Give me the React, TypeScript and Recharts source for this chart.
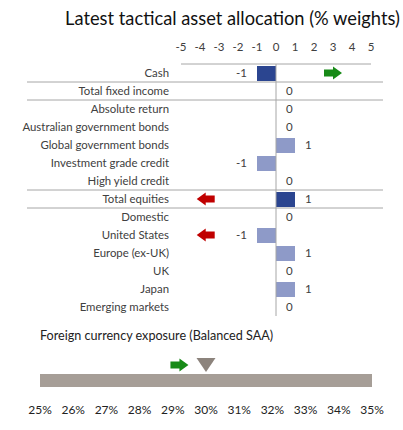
import React from 'react';
import {
  ComposedChart, Bar, Scatter, XAxis, YAxis, ReferenceLine, Cell
} from 'recharts';

const FONT = 'Lato, "Noto Sans", sans-serif';
const TEXT = '#404040';
const GRID = '#a6a6a6';
const DARK_BLUE = '#2b4590';
const LIGHT_BLUE = '#8e9ac8';
const GREEN = '#178a17';
const RED = '#c00000';
const FX_BAR = '#a69e97';
const FX_MARK = '#8c837c';

// tactical allocation
const categories = [
  'Cash', 'Total fixed income', 'Absolute return', 'Australian government bonds',
  'Global government bonds', 'Investment grade credit', 'High yield credit',
  'Total equities', 'Domestic', 'United States', 'Europe (ex-UK)', 'UK', 'Japan',
  'Emerging markets',
];
const weights = [-1, 0, 0, 0, 1, -1, 0, 1, 0, -1, 1, 0, 1, 0];
// arrow position on the weight axis, sign gives direction
const arrows = [3, null, null, null, null, null, null, -3.7, null, -3.7, null, null, null, null];
const darkRows = ['Cash', 'Total equities'];
const lineBelowRows = ['Cash', 'Total fixed income', 'High yield credit', 'Total equities'];
const weightTicks = [-5, -4, -3, -2, -1, 0, 1, 2, 3, 4, 5];

// foreign currency exposure
const fxName = 'Foreign currency exposure (Balanced SAA)';
const fxRange = [25, 35];
const fxCurrent = 30;
const fxArrow = 29.2;
const fxTicks = [25, 26, 27, 28, 29, 30, 31, 32, 33, 34, 35];

const tacticalData = categories.map((name, i) => ({
  name,
  value: weights[i],
  arrow: arrows[i],
}));

const fxData = [{ name: fxName, range: fxRange, current: fxCurrent, arrow: fxArrow }];

const Arrow = ({ cx, cy, dir, color }: any) => {
  const s = dir === 'right' ? 1 : -1;
  const pts = [[-9, -3.5], [0, -3.5], [0, -6.5], [9, 0], [0, 6.5], [0, 3.5], [-9, 3.5]]
    .map(([px, py]) => `${cx + s * px},${cy + py}`)
    .join(' ');
  return <polygon points={pts} fill={color} />;
};

const TacticalArrow = (props: any) => {
  const v = props.payload && props.payload.arrow;
  if (v == null || props.cx == null || isNaN(props.cx)) return <g />;
  return <Arrow cx={props.cx} cy={props.cy} dir={v > 0 ? 'right' : 'left'} color={v > 0 ? GREEN : RED} />;
};

// value label drawn at the end of each bar
const ValueMark = (props: any) => {
  const { cx, cy, payload } = props;
  if (cx == null || isNaN(cx)) return <g />;
  const neg = payload.value < 0;
  return (
    <text
      x={neg ? cx - 10 : cx + 10}
      y={cy}
      dy="0.35em"
      textAnchor={neg ? 'end' : 'start'}
      fill={TEXT}
      fontSize={11.5}
      fontFamily={FONT}
    >
      {payload.value}
    </text>
  );
};

const CategoryTick = (props: any) => {
  const { x, y, payload } = props;
  const hasLine = lineBelowRows.includes(payload.value);
  return (
    <g>
      <text x={x - 4} y={y} dy="0.35em" textAnchor="end" fill={TEXT} fontSize={11.4} fontFamily={FONT}>
        {payload.value}
      </text>
      {hasLine && (
        <line x1={x - 146} x2={x + 210} y1={y + 9} y2={y + 9} stroke={GRID} strokeWidth={1} />
      )}
    </g>
  );
};

const WeightTick = (props: any) => {
  const { x, y, payload } = props;
  return (
    <text x={x} y={y - 9} dy="0.35em" textAnchor="middle" fill={TEXT} fontSize={11.5} fontFamily={FONT}>
      {payload.value}
    </text>
  );
};

const PercentTick = (props: any) => {
  const { x, y, payload } = props;
  return (
    <text x={x} y={y + 2} dy="0.35em" textAnchor="middle" fill="#222" fontSize={12} fontFamily={FONT}>
      {`${payload.value}%`}
    </text>
  );
};

const Triangle = (props: any) => {
  const { cx, cy } = props;
  if (cx == null || isNaN(cx)) return <g />;
  return <polygon points={`${cx - 9.5},${cy - 22} ${cx + 9.5},${cy - 22} ${cx},${cy - 8}`} fill={FX_MARK} />;
};

const FxArrow = (props: any) => {
  const { cx, cy } = props;
  if (cx == null || isNaN(cx)) return <g />;
  return <Arrow cx={cx} cy={cy - 15} dir="right" color={GREEN} />;
};

export default function App() {
  return (
    <div style={{ position: 'absolute', left: 0, top: 0, width: 403, height: 430, background: '#fff', fontFamily: FONT }}>
      <div style={{ position: 'absolute', left: 0, width: 403, top: 6, paddingLeft: 62, boxSizing: 'border-box', textAlign: 'center', fontSize: 18.3, color: '#111', lineHeight: '24px' }}>
        Latest tactical asset allocation (% weights)
      </div>

      <div style={{ position: 'absolute', left: 0, top: 0 }}>
        <ComposedChart
          width={403}
          height={330}
          layout="vertical"
          data={tacticalData}
          margin={{ top: 34, right: 32, bottom: 14, left: 0 }}
        >
          <XAxis
            type="number"
            orientation="top"
            domain={[-5, 5]}
            ticks={weightTicks}
            height={30}
            axisLine={{ stroke: GRID }}
            tickLine={false}
            tick={<WeightTick />}
            interval={0}
          />
          <YAxis
            type="category"
            dataKey="name"
            width={181}
            axisLine={false}
            tickLine={false}
            tick={<CategoryTick />}
            interval={0}
          />
          <ReferenceLine x={0} stroke={GRID} />
          <Bar dataKey="value" barSize={15} isAnimationActive={false}>
            {tacticalData.map((d, i) => (
              <Cell key={i} fill={darkRows.includes(d.name) ? DARK_BLUE : LIGHT_BLUE} />
            ))}
          </Bar>
          <Scatter dataKey="value" shape={<ValueMark />} isAnimationActive={false} />
          <Scatter dataKey="arrow" shape={<TacticalArrow />} isAnimationActive={false} />
        </ComposedChart>
      </div>

      <div style={{ position: 'absolute', left: 40, top: 327, fontSize: 12.6, color: '#222', lineHeight: '18px' }}>
        {fxName}
      </div>

      <div style={{ position: 'absolute', left: 0, top: 350 }}>
        <ComposedChart
          width={403}
          height={80}
          layout="vertical"
          data={fxData}
          margin={{ top: 10, right: 31, bottom: 0, left: 40 }}
        >
          <XAxis
            type="number"
            domain={fxRange}
            ticks={fxTicks}
            height={30}
            axisLine={false}
            tickLine={false}
            tick={<PercentTick />}
            interval={0}
          />
          <YAxis type="category" dataKey="name" hide />
          <Bar dataKey="range" barSize={13} fill={FX_BAR} isAnimationActive={false} />
          <Scatter dataKey="current" shape={<Triangle />} isAnimationActive={false} />
          <Scatter dataKey="arrow" shape={<FxArrow />} isAnimationActive={false} />
        </ComposedChart>
      </div>
    </div>
  );
}
